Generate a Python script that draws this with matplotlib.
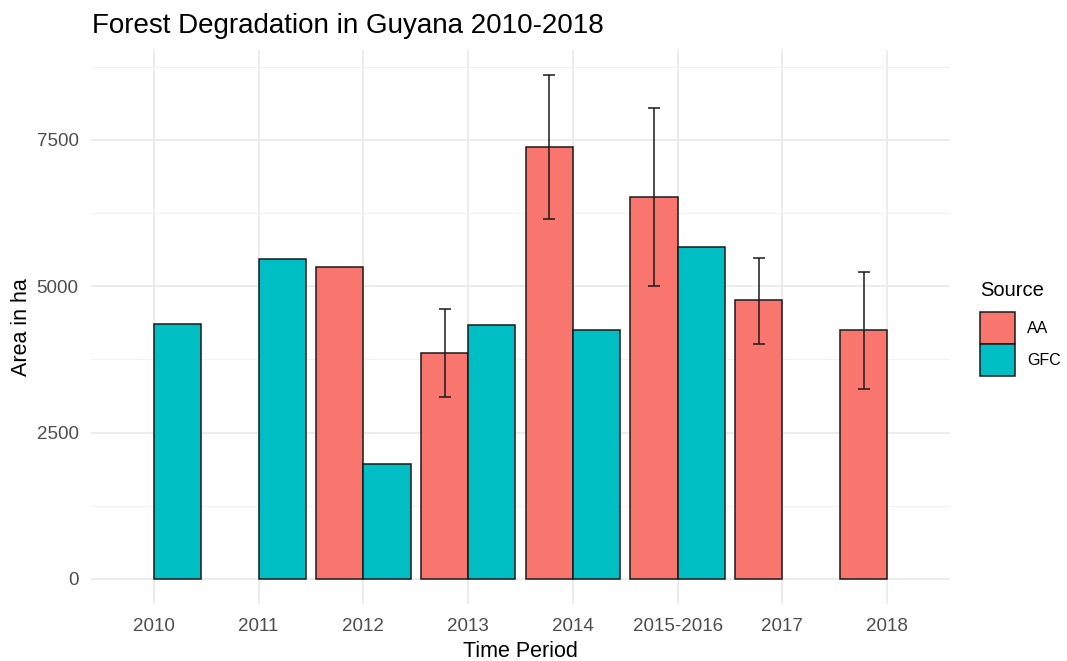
import numpy as np
import matplotlib
matplotlib.use("Agg")
import matplotlib.pyplot as plt
from matplotlib.patches import Patch

periods = ["2010", "2011", "2012", "2013", "2014", "2015-2016", "2017", "2018"]
aa_values = [np.nan, np.nan, 5330, 3860, 7380, 6530, 4770, 4260]
gfc_values = [4360, 5460, 1965, 4340, 4255, 5670, np.nan, np.nan]
aa_lower = [np.nan, np.nan, np.nan, 3115, 6152, 5007, 4021, 3247]
aa_upper = [np.nan, np.nan, np.nan, 4609, 8607, 8043, 5485, 5246]
sources = ["AA", "GFC"]
colors = {"AA": "#F8766D", "GFC": "#00BFC4"}

plt.rcParams['font.family'] = ['Liberation Sans', 'DejaVu Sans']

W, H = 1067, 661
fig = plt.figure(figsize=(W / 100, H / 100), dpi=100)
left, right, top, bottom = 91, 950, 50, 604
ax = fig.add_axes([left / W, (H - bottom) / H, (right - left) / W, (bottom - top) / H])

x = np.arange(len(periods))
bw = 0.45
aa = np.array(aa_values, dtype=float)
gfc = np.array(gfc_values, dtype=float)
lo = np.array(aa_lower, dtype=float)
hi = np.array(aa_upper, dtype=float)

m = ~np.isnan(aa)
ax.bar(x[m] - bw / 2, aa[m], width=bw, color=colors["AA"], edgecolor="#1a1a1a", linewidth=1.1, zorder=3)
m2 = ~np.isnan(gfc)
ax.bar(x[m2] + bw / 2, gfc[m2], width=bw, color=colors["GFC"], edgecolor="#1a1a1a", linewidth=1.1, zorder=3)

me = ~np.isnan(lo)
ax.errorbar(x[me] - bw / 2, aa[me], yerr=[aa[me] - lo[me], hi[me] - aa[me]], fmt="none",
            ecolor="#1a1a1a", elinewidth=1.1, capsize=4.5, capthick=1.1, zorder=4)

ymax = np.nanmax(hi)
ax.set_ylim(-0.05 * ymax, ymax * 1.05)
ax.set_xlim(-0.6, len(periods) - 1 + 0.6)
ax.set_yticks([0, 2500, 5000, 7500])
ax.set_yticks([1250, 3750, 6250, 8750], minor=True)
ax.set_xticks(x)
ax.set_xticklabels(periods)

ax.grid(axis="y", which="major", color="#EBEBEB", linewidth=1.3, zorder=0)
ax.grid(axis="y", which="minor", color="#F2F2F2", linewidth=0.8, zorder=0)
ax.grid(axis="x", which="major", color="#EBEBEB", linewidth=1.3, zorder=0)
ax.set_axisbelow(True)
for s in ax.spines.values():
    s.set_visible(False)
ax.tick_params(axis="both", which="both", length=0, labelsize=13.5, labelcolor="#4D4D4D")
ax.tick_params(axis="x", pad=10)
ax.tick_params(axis="y", pad=9)

ax.set_xlabel("Time Period", fontsize=15.5, color="black", labelpad=4.5)
ax.set_ylabel("Area in ha", fontsize=15.5, color="black", labelpad=3)
fig.text(92 / W, 1 - 26 / H, "Forest Degradation in Guyana 2010-2018", fontsize=20,
         ha="left", va="center", color="black")

handles = [Patch(facecolor=colors[s], edgecolor="#1a1a1a", linewidth=1.1) for s in sources]
leg = fig.legend(handles, sources, loc="upper left", bbox_to_anchor=(980 / W, 1 - 281 / H),
                 frameon=False, title="Source", fontsize=11.5, title_fontsize=14.5,
                 handlelength=2.2, handleheight=2.7, labelspacing=0.0, handletextpad=0.75,
                 borderpad=0, borderaxespad=0)
leg._legend_box.align = "left"
leg._legend_box.sep = 9

fig.savefig("out.png", dpi=100)
